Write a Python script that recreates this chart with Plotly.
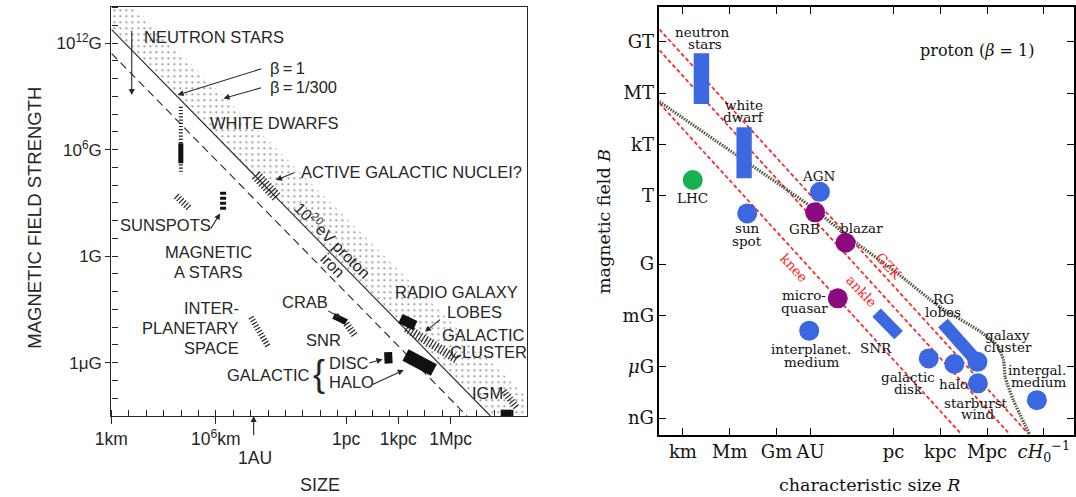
import plotly.graph_objects as go

W, H = 1076, 497

# ================= LEFT PANEL (x: log10(size/km), y: log10(B/gauss)) =================
L_XRANGE = [0.0, 23.9]
L_YRANGE = [-9.0, 14.02]
left_xtick_vals = [0, 6, 13.489, 16.489, 19.489]
left_xtick_text = ["1km", "10<sup>6</sup>km", "1pc", "1kpc", "1Mpc"]
left_ytick_vals = [12, 6, 0, -6]
left_ytick_text = ["10<sup>12</sup>G", "10<sup>6</sup>G", "1G", "1μG"]
AU_log_km = 8.175

proton_R = [0.0, 21.78]
proton_B = [12.78, -9.0]
iron_R = [0.0, 20.43]
iron_B = [11.43, -9.0]
beta300_R = [1.30, 23.9]
beta300_B = [14.02, -8.0]

# source regions (hatched)
wd_hatch_R = [3.99, 3.99];   wd_hatch_B = [8.42, 4.76]
agn_R = [8.30, 9.55];        agn_B = [4.57, 3.28]
sunspot_R = [3.73, 4.52];    sunspot_B = [3.39, 2.66]
ipspace_R = [8.02, 9.04];    ipspace_B = [-3.44, -5.13]
snr_R = [13.39, 14.01];      snr_B = [-3.65, -4.49]
cluster_R = [16.95, 19.83];  cluster_B = [-4.05, -5.80]
igm_hatch_R = [22.54, 23.28]; igm_hatch_B = [-7.60, -8.50]
# source regions (solid)
wd_core_R = [3.99, 3.99];    wd_core_B = [6.36, 5.23]
crab_R = [12.77, 13.50];     crab_B = [-3.37, -3.71]
disc_R = [15.90, 15.93];     disc_B = [-5.40, -6.04]
halo_R = [16.90, 18.53];     halo_B = [-5.57, -6.41]
lobes_R = [16.61, 17.46];    lobes_B = [-3.51, -3.91]
igm_core_R = [22.37, 23.10]; igm_core_B = [-8.84, -8.84]
astars_R = [6.42, 6.42];     astars_B = [3.63, 2.51]

# ================= RIGHT PANEL (x: log10(R/km), y: log10(B/tesla)) =================
R_XRANGE = [-1.51, 25.06]
R_YRANGE = [-13.96, 11.02]
right_xtick_vals = [0, 3, 6, 8.175, 13.489, 16.489, 19.489, 23.12]
right_xtick_text = ["km", "Mm", "Gm", "AU", "pc", "kpc", "Mpc", "<i>cH</i><sub>0</sub><sup>−1</sup>"]
right_ytick_vals = [9, 6, 3, 0, -4, -7, -10, -13]
right_ytick_text = ["GT", "MT", "kT", "T", "G", "mG", "<i>μ</i>G", "nG"]

gzk_R = [-1.51, 22.18];   gzk_B = [9.73, -13.96]
ankle_R = [-1.51, 20.96]; ankle_B = [8.51, -13.96]
knee_R = [-1.51, 17.86];  knee_B = [5.41, -13.96]
hillas_R = [-1.51, 3.43, 8.15, 10.88, 13.61, 16.55, 19.07, 20.13, 20.54, 20.65, 21.17, 22.22]
hillas_B = [5.50, 2.38, -0.60, -2.60, -4.45, -6.55, -7.95, -8.75, -9.60, -10.60, -11.95, -13.96]

neutron_R = [0.69, 1.68]; neutron_B = [5.36, 8.33]
wdwarf_R = [3.43, 4.41];  wdwarf_B = [1.02, 4.00]
snrbar_R = [12.41, 13.82]; snrbar_B = [-6.83, -8.15]
rglobes_R = [16.66, 18.87]; rglobes_B = [-7.44, -9.71]

blue_names = ["AGN", "sun spot", "interplanet. medium", "galactic disk", "halo",
              "galaxy cluster", "starburst wind", "intergal. medium"]
blue_R = [8.78, 4.12, 8.09, 15.75, 17.39, 18.87, 18.90, 22.68]
blue_B = [0.23, -1.03, -7.89, -9.51, -9.84, -9.71, -10.97, -11.95]
purple_names = ["GRB", "blazar", "microquasar"]
purple_R = [8.47, 10.42, 9.92]
purple_B = [-0.97, -2.75, -6.00]
green_names = ["LHC"]
green_R = [0.63]
green_B = [0.92]

BLUE = "#3b68e0"
PURPLE = "#8b0a80"
GREEN = "#19b14b"
RED = "#ff2020"
INK = "#262626"
SANS = "Liberation Sans, Arial, sans-serif"
SERIF = "DejaVu Serif, serif"

fig = go.Figure()

def add(tr):
    tr.update(hoverinfo="skip", showlegend=False)
    fig.add_trace(tr)

# ---- left panel ----
band_x = [proton_R[0], proton_R[1], L_XRANGE[1], beta300_R[1], beta300_R[0], L_XRANGE[0], proton_R[0]]
band_y = [proton_B[0], proton_B[1], L_YRANGE[0], beta300_B[1], beta300_B[0], L_YRANGE[1], proton_B[0]]
add(go.Scatter(x=band_x, y=band_y, mode="lines", fill="toself",
               line=dict(width=0, color="rgba(0,0,0,0)"), fillcolor="rgba(0,0,0,0)",
               fillpattern=dict(shape=".", fgcolor="#1a1a1a", bgcolor="rgba(255,255,255,0)",
                                size=6, solidity=0.1),
               xaxis="x", yaxis="y"))
add(go.Scatter(x=proton_R, y=proton_B, mode="lines", line=dict(color=INK, width=1.1),
               xaxis="x", yaxis="y"))
add(go.Scatter(x=iron_R, y=iron_B, mode="lines", line=dict(color=INK, width=1.1, dash="8px,5px"),
               xaxis="x", yaxis="y"))

hatched = [(wd_hatch_R, wd_hatch_B, 4), (agn_R, agn_B, 11), (sunspot_R, sunspot_B, 7),
           (ipspace_R, ipspace_B, 6), (snr_R, snr_B, 7), (cluster_R, cluster_B, 9),
           (igm_hatch_R, igm_hatch_B, 7)]
for R, B, w in hatched:
    add(go.Scatter(x=R, y=B, mode="lines", line=dict(color=INK, width=w, dash="1.2px,2px"),
                   xaxis="x", yaxis="y"))
solid = [(wd_core_R, wd_core_B, 5), (crab_R, crab_B, 6), (disc_R, disc_B, 8),
         (halo_R, halo_B, 13), (lobes_R, lobes_B, 10), (igm_core_R, igm_core_B, 7)]
for R, B, w in solid:
    add(go.Scatter(x=R, y=B, mode="lines", line=dict(color="#111", width=w),
                   xaxis="x", yaxis="y"))
add(go.Scatter(x=astars_R, y=astars_B, mode="lines", line=dict(color="#111", width=6, dash="3px,2px"),
               xaxis="x", yaxis="y"))

# ---- right panel ----
for R, B in [(gzk_R, gzk_B), (ankle_R, ankle_B), (knee_R, knee_B)]:
    add(go.Scatter(x=R, y=B, mode="lines", line=dict(color=RED, width=1.7, dash="4px,2.5px"),
                   xaxis="x2", yaxis="y2"))
add(go.Scatter(x=hillas_R, y=hillas_B, mode="lines",
               line=dict(color="#4d573f", width=3.2, dash="1.5px,1.2px", shape="spline", smoothing=0.6),
               xaxis="x2", yaxis="y2"))
add(go.Scatter(x=snrbar_R, y=snrbar_B, mode="lines", line=dict(color=BLUE, width=12),
               xaxis="x2", yaxis="y2"))
add(go.Scatter(x=rglobes_R, y=rglobes_B, mode="lines", line=dict(color=BLUE, width=13),
               xaxis="x2", yaxis="y2"))
for R, B, c in [(blue_R, blue_B, BLUE), (purple_R, purple_B, PURPLE), (green_R, green_B, GREEN)]:
    add(go.Scatter(x=R, y=B, mode="markers", marker=dict(size=20, color=c, line=dict(width=0)),
                   xaxis="x2", yaxis="y2"))
for R, B in [(neutron_R, neutron_B), (wdwarf_R, wdwarf_B)]:
    fig.add_shape(type="rect", xref="x2", yref="y2", x0=R[0], x1=R[1], y0=B[0], y1=B[1],
                  fillcolor=BLUE, line=dict(width=0))

# ---- annotations ----
ann = []
def txt(t, x, y, xa="center", size=16.5, font=SANS, color=INK, xref="x", yref="y", angle=0):
    ann.append(dict(text=t, x=x, y=y, xref=xref, yref=yref, xanchor=xa, yanchor="middle",
                    showarrow=False, textangle=angle, font=dict(family=font, size=size, color=color)))

def arrow(hx, hy, tx, ty, xref="x", yref="y"):
    ann.append(dict(text="", x=hx, y=hy, ax=tx, ay=ty, xref=xref, yref=yref, axref=xref, ayref=yref,
                    showarrow=True, arrowhead=2, arrowsize=1.1, arrowwidth=1.1, arrowcolor=INK,
                    standoff=0, startstandoff=0))

for t, x, y, xa in [
    ("NEUTRON STARS", 1.77, 12.36, "left"),
    ("β\u2009=\u20091", 8.98, 10.58, "left"),
    ("β\u2009=\u20091/300", 8.98, 9.55, "left"),
    ("WHITE DWARFS", 9.36, 7.48, "center"),
    ("ACTIVE GALACTIC NUCLEI?", 10.77, 4.72, "left"),
    ("SUNSPOTS", 3.11, 1.76, "center"),
    ("MAGNETIC", 5.58, 0.25, "center"),
    ("A STARS", 5.53, -0.87, "center"),
    ("INTER-", 7.47, -2.94, "right"),
    ("PLANETARY", 7.47, -4.06, "right"),
    ("SPACE", 7.47, -5.19, "right"),
    ("CRAB", 11.10, -2.57, "center"),
    ("SNR", 12.19, -4.72, "center"),
    ("DISC", 12.37, -6.04, "left"),
    ("HALO", 12.37, -7.07, "left"),
    ("GALACTIC", 11.53, -6.70, "right"),
    ("RADIO GALAXY", 19.81, -2.00, "center"),
    ("LOBES", 20.89, -3.13, "center"),
    ("GALACTIC", 21.36, -4.44, "center"),
    ("CLUSTER", 21.69, -5.38, "center"),
    ("IGM", 21.64, -7.69, "center"),
]:
    txt(t, x, y, xa)
txt("{", 11.92, -6.58, size=36)
txt("10<sup>20</sup>eV proton", 12.75, 0.91, size=16, angle=45)
txt("iron", 12.70, -0.54, size=16, angle=45)

arrow(1.17, 9.08, 1.17, 12.78)
arrow(3.80, 9.08, 8.70, 10.58)
arrow(6.44, 8.89, 8.70, 9.51)
arrow(9.45, 4.29, 10.56, 4.72)
arrow(6.25, 2.41, 5.65, 1.47)
arrow(13.22, -3.50, 12.37, -3.03)
arrow(15.58, -5.81, 14.73, -6.04)
arrow(16.80, -6.41, 14.92, -7.26)
arrow(18.02, -4.26, 18.97, -3.50)
arrow(AU_log_km, L_YRANGE[0], AU_log_km, -10.17)

txt("1AU", 242.5 / W, 1 - 458.3 / H, size=17.5, xref="paper", yref="paper")
txt("SIZE", 308.3 / W, 1 - 485 / H, size=18, xref="paper", yref="paper")
txt("MAGNETIC FIELD STRENGTH", 17 / W, 1 - 218 / H, size=18.5, xref="paper", yref="paper", angle=-90)

for t, x, y in [
    ("neutron", 1.22, 9.56), ("stars", 1.43, 8.85), ("white", 3.89, 5.30), ("dwarf", 3.89, 4.62),
    ("LHC", 0.64, -0.12), ("AGN", 8.71, 1.17), ("sun", 4.11, -1.91), ("spot", 4.11, -2.65),
    ("GRB", 7.76, -1.96), ("blazar", 11.45, -1.87), ("micro-", 7.78, -5.81), ("quasar", 7.78, -6.58),
    ("interplanet.", 8.20, -8.98), ("medium", 8.25, -9.71), ("SNR", 12.39, -8.89),
    ("RG", 16.71, -6.04), ("lobes", 16.66, -6.78), ("galaxy", 20.81, -8.15), ("cluster", 20.81, -8.83),
    ("galactic", 14.45, -10.58), ("disk", 14.45, -11.32), ("halo", 17.34, -11.01),
    ("starburst", 18.81, -12.11), ("wind", 18.92, -12.78),
    ("intergal.", 22.70, -10.19), ("medium", 22.79, -10.91),
]:
    txt(t, x, y, size=13.5, font=SERIF, color="#111", xref="x2", yref="y2")
txt("proton (<i>β</i> = 1)", 18.87, 8.52, size=16, font=SERIF, color="#111", xref="x2", yref="y2")
for t, x, y in [("knee", 7.16, -4.20), ("ankle", 11.45, -5.57), ("GZK", 13.19, -4.13)]:
    txt(t, x, y, size=13.5, font=SERIF, color=RED, xref="x2", yref="y2", angle=47)
txt("characteristic size <i>R</i>", 866.7 / W, 1 - 485 / H, size=17.5, font=SERIF, color="#111",
    xref="paper", yref="paper")
txt("magnetic field <i>B</i>", 597 / W, 1 - 222 / H, size=17.5, font=SERIF, color="#111",
    xref="paper", yref="paper", angle=-90)

# ---- axes ----
common = dict(showgrid=False, zeroline=False, showline=True)
fig.update_layout(
    width=W, height=H, autosize=False, margin=dict(l=0, r=0, t=0, b=0),
    paper_bgcolor="white", plot_bgcolor="white", showlegend=False,
    font=dict(family=SANS, color=INK),
    annotations=ann,
    xaxis=dict(domain=[96 / W, 519 / W], range=L_XRANGE, anchor="y", **common,
               linecolor=INK, linewidth=1.3, mirror=True,
               tickmode="array", tickvals=left_xtick_vals, ticktext=left_xtick_text,
               ticks="outside", ticklen=7, tickwidth=1.1, tickcolor=INK,
               tickfont=dict(family=SANS, size=17.5, color=INK),
               minor=dict(tickmode="linear", tick0=0, dtick=1, ticks="inside", ticklen=6,
                          tickwidth=1.1, tickcolor=INK, showgrid=False)),
    yaxis=dict(domain=[(H - 416) / H, (H - 7.3) / H], range=L_YRANGE, anchor="x", **common,
               linecolor=INK, linewidth=1.3, mirror=True,
               tickmode="array", tickvals=left_ytick_vals, ticktext=left_ytick_text,
               ticks="outside", ticklen=5, tickwidth=1.1, tickcolor=INK,
               tickfont=dict(family=SANS, size=17, color=INK),
               minor=dict(tickmode="linear", tick0=0, dtick=1, ticks="inside", ticklen=6,
                          tickwidth=1.1, tickcolor=INK, showgrid=False)),
    yaxis3=dict(overlaying="y", side="right", anchor="x", range=L_YRANGE,
                showgrid=False, zeroline=False, showline=False,
                tickmode="linear", tick0=0, dtick=1, ticks="inside", ticklen=6,
                tickwidth=1.1, tickcolor=INK, showticklabels=False),
    xaxis2=dict(domain=[653.3 / W, 1075 / W], range=R_XRANGE, anchor="y2", **common,
                linecolor="black", linewidth=1.5, mirror="ticks",
                tickmode="array", tickvals=right_xtick_vals, ticktext=right_xtick_text,
                ticks="inside", ticklen=7, tickwidth=1.1, tickcolor="black",
                tickfont=dict(family=SERIF, size=18, color="#111")),
    yaxis2=dict(domain=[(H - 434.5) / H, (H - 7.3) / H], range=R_YRANGE, anchor="x2", **common,
                linecolor="black", linewidth=1.5, mirror="ticks",
                tickmode="array", tickvals=right_ytick_vals, ticktext=right_ytick_text,
                ticks="inside", ticklen=7, tickwidth=1.1, tickcolor="black",
                tickfont=dict(family=SERIF, size=18, color="#111")),
)

fig.write_html("out.html")
